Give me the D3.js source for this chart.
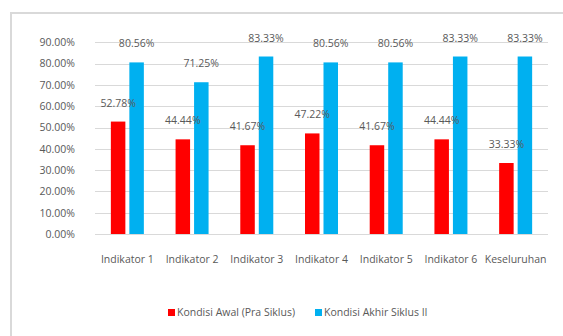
<!DOCTYPE html>
<html>
<head>
<meta charset="utf-8">
<script src="https://cdn.jsdelivr.net/npm/d3@7"></script>
<style>
  body { margin: 0; background: #fff; }
  svg text { font-family: "Open Sans", sans-serif; fill: #595959; }
</style>
</head>
<body>
<div id="chart"></div>
<script>
// data
var categories = ["Indikator 1", "Indikator 2", "Indikator 3", "Indikator 4", "Indikator 5", "Indikator 6", "Keseluruhan"];
var seriesNames = ["Kondisi Awal (Pra Siklus)", "Kondisi Akhir Siklus II"];
var awal = [52.78, 44.44, 41.67, 47.22, 41.67, 44.44, 33.33];
var akhir = [80.56, 71.25, 83.33, 80.56, 80.56, 83.33, 83.33];
var yTicks = [0, 10, 20, 30, 40, 50, 60, 70, 80, 90];
var colors = ["#ff0000", "#00b0f0"];

var width = 563, height = 336;
var svg = d3.select("#chart").append("svg")
  .attr("width", width)
  .attr("height", height);

// chart area border (goes past the right/bottom edge)
svg.append("rect")
  .attr("x", 11).attr("y", 13)
  .attr("width", 600).attr("height", 400)
  .attr("fill", "none")
  .attr("stroke", "#d9d9d9")
  .attr("stroke-width", 2);

var plot = { left: 95, right: 548, top: 21, bottom: 234 };

var x0 = d3.scaleBand().domain(categories).range([plot.left, plot.right]);
var x1 = d3.scaleBand().domain(seriesNames).range([0, 33]).paddingInner(0.216);
var y = d3.scaleLinear().domain([0, 100]).range([plot.bottom, plot.top]);

// gridlines
svg.append("g").selectAll("line")
  .data(yTicks)
  .enter().append("line")
  .attr("x1", plot.left).attr("x2", plot.right)
  .attr("y1", d => Math.round(y(d)) + 0.5)
  .attr("y2", d => Math.round(y(d)) + 0.5)
  .attr("stroke", "#d9d9d9")
  .attr("stroke-width", 1);

// y axis labels
var yAxis = d3.axisLeft(y).tickValues(yTicks).tickSize(0).tickPadding(0)
  .tickFormat(d => d.toFixed(2) + "%");
svg.append("g")
  .attr("transform", "translate(75,0)")
  .call(yAxis)
  .call(g => g.select(".domain").remove())
  .selectAll("text")
  .style("font-size", "10.5px")
  .attr("fill", "#595959");

// x axis labels
var xAxis = d3.axisBottom(x0).tickSize(0).tickPadding(0);
svg.append("g")
  .attr("transform", "translate(0,256)")
  .call(xAxis)
  .call(g => g.select(".domain").remove())
  .selectAll("text")
  .style("font-size", "10.5px")
  .attr("fill", "#595959");

// bars
var rows = categories.map((c, i) => ({ cat: c, vals: [awal[i], akhir[i]] }));
var groups = svg.append("g").selectAll("g")
  .data(rows)
  .enter().append("g")
  .attr("transform", d => "translate(" + (x0(d.cat) + x0.bandwidth() / 2 - 16.5) + ",0)");

groups.selectAll("rect")
  .data(d => d.vals.map((v, j) => ({ s: seriesNames[j], v: v, j: j })))
  .enter().append("rect")
  .attr("x", d => x1(d.s))
  .attr("y", d => y(d.v))
  .attr("width", x1.bandwidth())
  .attr("height", d => y(0) - y(d.v))
  .attr("fill", d => colors[d.j]);

// data labels
groups.selectAll("text.lbl")
  .data(d => d.vals.map((v, j) => ({ s: seriesNames[j], v: v, j: j })))
  .enter().append("text")
  .attr("class", "lbl")
  .attr("x", d => x1(d.s) + x1.bandwidth() / 2)
  .attr("y", d => y(d.v) - 15)
  .attr("text-anchor", "middle")
  .style("font-size", "10.5px")
  .text(d => d.v.toFixed(2) + "%");

// axis base line
svg.append("line")
  .attr("x1", plot.left).attr("x2", plot.right)
  .attr("y1", y(0) + 0.5).attr("y2", y(0) + 0.5)
  .attr("stroke", "#d9d9d9");

// legend
var legendX = [168, 315];
var legend = svg.append("g").selectAll("g")
  .data(seriesNames)
  .enter().append("g")
  .attr("transform", (d, i) => "translate(" + legendX[i] + ",309)");
legend.append("rect")
  .attr("width", 7).attr("height", 7)
  .attr("fill", (d, i) => colors[i]);
legend.append("text")
  .attr("x", 9).attr("y", 7)
  .style("font-size", "10.5px")
  .text(d => d);
</script>
</body>
</html>
